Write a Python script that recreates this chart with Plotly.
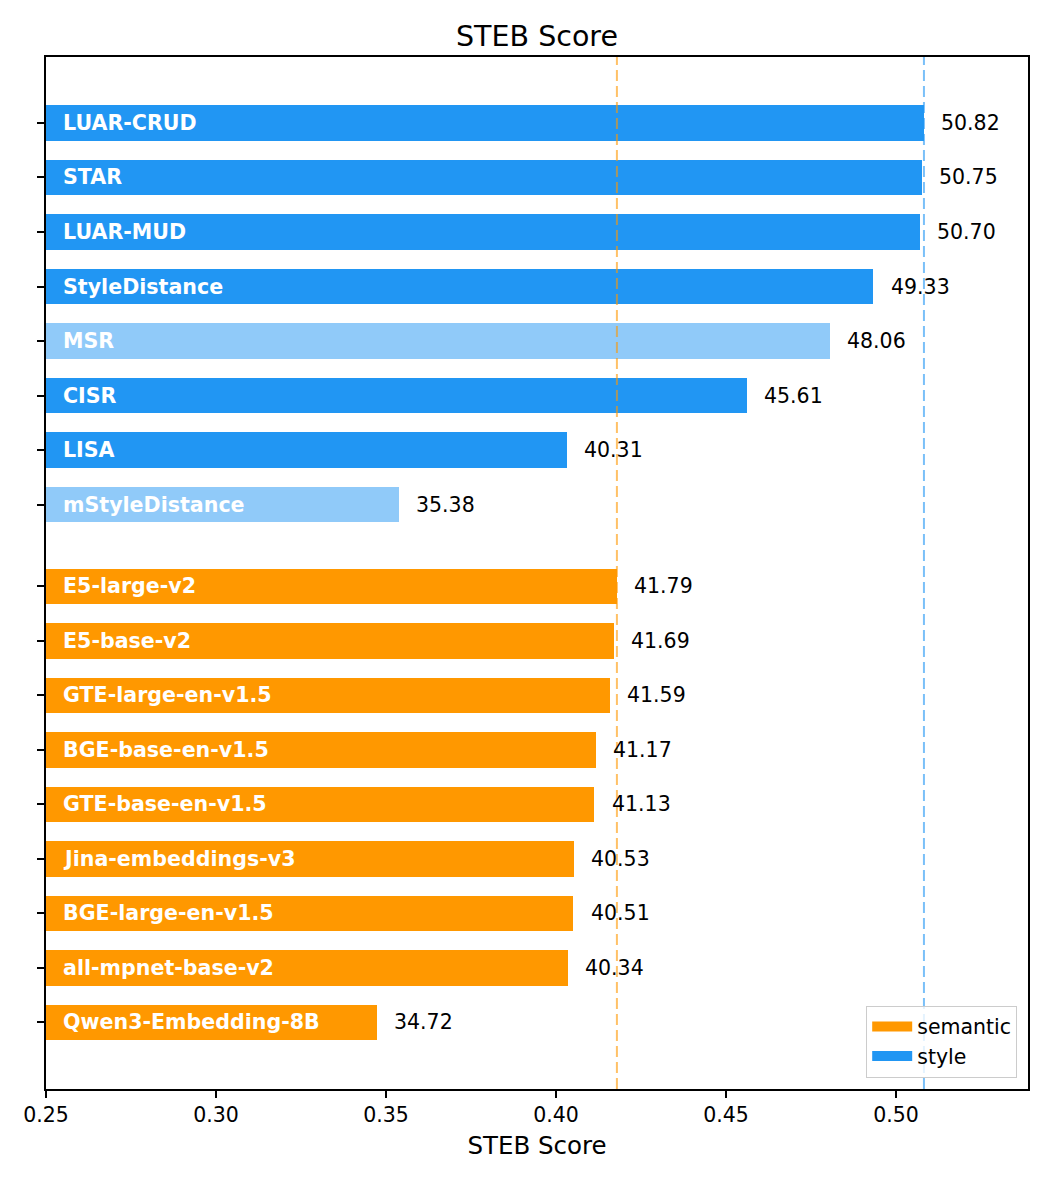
import plotly.graph_objects as go

# ---- data ----
style_models = ["LUAR-CRUD", "STAR", "LUAR-MUD", "StyleDistance", "MSR", "CISR", "LISA", "mStyleDistance"]
style_scores = [0.5082, 0.5075, 0.5070, 0.4933, 0.4806, 0.4561, 0.4031, 0.3538]
style_light = [False, False, False, False, True, False, False, True]

semantic_models = ["E5-large-v2", "E5-base-v2", "GTE-large-en-v1.5", "BGE-base-en-v1.5",
                   "GTE-base-en-v1.5", "Jina-embeddings-v3", "BGE-large-en-v1.5",
                   "all-mpnet-base-v2", "Qwen3-Embedding-8B"]
semantic_scores = [0.4179, 0.4169, 0.4159, 0.4117, 0.4113, 0.4053, 0.4051, 0.4034, 0.3472]

x_ticks = [0.25, 0.30, 0.35, 0.40, 0.45, 0.50]

# ---- styling ----
STYLE_C = "#2196F3"
STYLE_LIGHT_C = "#90CAF9"
SEM_C = "#FF9800"
FONT = "DejaVu Sans"

style_pos = list(range(len(style_models)))
gap = 1.5
sem_pos = [style_pos[-1] + gap + i for i in range(len(semantic_models))]

fig = go.Figure()
fig.add_trace(go.Bar(
    y=sem_pos, x=semantic_scores, orientation="h", width=0.65,
    marker=dict(color=SEM_C, line=dict(width=0)), name="semantic",
    showlegend=False, hoverinfo="skip"))
fig.add_trace(go.Bar(
    y=style_pos, x=style_scores, orientation="h", width=0.65,
    marker=dict(color=[STYLE_LIGHT_C if l else STYLE_C for l in style_light], line=dict(width=0)),
    name="style", showlegend=False, hoverinfo="skip"))
# legend entries (wide patches like matplotlib)
for nm, c in [("semantic", SEM_C), ("style", STYLE_C)]:
    fig.add_trace(go.Scatter(x=[None], y=[None], mode="lines", name=nm,
                             line=dict(color=c, width=14), hoverinfo="skip"))

ann = []
for names, scores, pos in [(style_models, style_scores, style_pos),
                           (semantic_models, semantic_scores, sem_pos)]:
    for n, s, p in zip(names, scores, pos):
        ann.append(dict(x=0.2545, y=p, xref="x", yref="y", text="<b>%s</b>" % n,
                        showarrow=False, xanchor="left", yanchor="middle",
                        font=dict(family=FONT, size=20.6, color="white")))
        ann.append(dict(x=s + 0.0045, y=p, xref="x", yref="y", text="%.2f" % (s * 100),
                        showarrow=False, xanchor="left", yanchor="middle",
                        font=dict(family=FONT, size=20.5, color="black")))

shapes = [
    dict(type="line", xref="x", yref="paper", x0=max(semantic_scores), x1=max(semantic_scores),
         y0=0, y1=1, line=dict(color="rgba(255,152,0,0.6)", width=2, dash="11px,5px"), layer="above"),
    dict(type="line", xref="x", yref="paper", x0=max(style_scores), x1=max(style_scores),
         y0=0, y1=1, line=dict(color="rgba(33,150,243,0.6)", width=2, dash="11px,5px"), layer="above"),
]

fig.update_layout(
    width=1050, height=1180,
    margin=dict(l=46, r=22, t=57, b=91),
    paper_bgcolor="white", plot_bgcolor="white",
    font=dict(family=FONT, size=20, color="black"),
    title=dict(text="STEB Score", x=0.5, xref="paper", xanchor="center", y=1 - 36 / 1180,
               yanchor="middle", font=dict(family=FONT, size=28.5, color="black")),
    bargap=0,
    showlegend=True,
    legend=dict(x=0.989, y=0.011, xanchor="right", yanchor="bottom",
                bgcolor="rgba(255,255,255,0.8)", bordercolor="#cccccc", borderwidth=1,
                font=dict(family=FONT, size=20.5), traceorder="normal", itemwidth=40),
    annotations=ann,
    shapes=shapes,
)
fig.update_xaxes(range=[0.25, 0.5388], tickvals=x_ticks, ticktext=["%.2f" % t for t in x_ticks],
                 ticks="outside", ticklen=7, tickwidth=1.6, tickcolor="black",
                 showline=True, linecolor="black", linewidth=1.6, mirror=True,
                 showgrid=False, zeroline=False,
                 title=dict(text="STEB Score", font=dict(family=FONT, size=24.5), standoff=10),
                 tickfont=dict(family=FONT, size=20.5))
fig.update_yaxes(range=[sem_pos[-1] + 1.22, -1.21], tickvals=style_pos + sem_pos,
                 ticktext=["" for _ in style_pos + sem_pos],
                 ticks="outside", ticklen=7, tickwidth=1.6, tickcolor="black",
                 showline=True, linecolor="black", linewidth=1.6, mirror=True,
                 showgrid=False, zeroline=False)

fig.write_html("out.html")
